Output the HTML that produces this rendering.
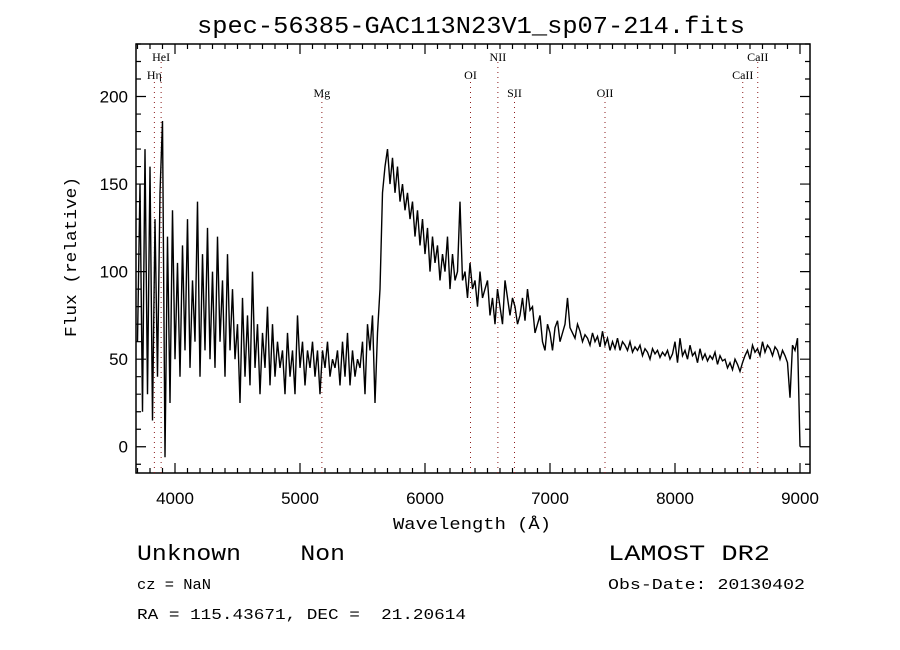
<!DOCTYPE html>
<html><head><meta charset="utf-8"><style>
body{margin:0;background:#fff;}
svg{display:block;}
</style></head><body>
<svg id="chart" width="900" height="650" viewBox="0 0 900 650" xmlns="http://www.w3.org/2000/svg">
<rect width="900" height="650" fill="#fff"/>
<text x="197" y="33" style="font-family:'Liberation Mono',monospace;font-size:24px" textLength="548" lengthAdjust="spacingAndGlyphs">spec-56385-GAC113N23V1_sp07-214.fits</text>
<g id="axes"></g>
<g id="lines"></g>
<g id="series"></g>
<text x="393" y="529" style="font-family:'Liberation Mono',monospace;font-size:17px" textLength="158" lengthAdjust="spacingAndGlyphs">Wavelength (Å)</text>
<text transform="translate(76,337) rotate(-90)" style="font-family:'Liberation Mono',monospace;font-size:17px" textLength="160" lengthAdjust="spacingAndGlyphs">Flux (relative)</text>
<text x="137" y="560" style="font-family:'Liberation Mono',monospace;font-size:22px" textLength="208" lengthAdjust="spacingAndGlyphs" xml:space="preserve">Unknown    Non</text>
<text x="137" y="589" style="font-family:'Liberation Mono',monospace;font-size:15px" textLength="74" lengthAdjust="spacingAndGlyphs">cz = NaN</text>
<text x="137" y="619" style="font-family:'Liberation Mono',monospace;font-size:15px" textLength="329" lengthAdjust="spacingAndGlyphs" xml:space="preserve">RA = 115.43671, DEC =  21.20614</text>
<text x="608" y="560" style="font-family:'Liberation Mono',monospace;font-size:22px" textLength="162" lengthAdjust="spacingAndGlyphs">LAMOST DR2</text>
<text x="608" y="589" style="font-family:'Liberation Mono',monospace;font-size:15px" textLength="197" lengthAdjust="spacingAndGlyphs">Obs-Date: 20130402</text>
</svg>
<script>
const W0 = 3700;
const DW = 20;
const flux = [
60,150,20,170,30,160,15,130,40,145,
186,-6,120,25,135,50,105,40,115,55,
130,45,95,60,140,40,110,55,125,50,
100,45,120,60,95,40,110,55,90,50,
70,25,85,40,75,35,100,45,70,30,
65,45,80,35,70,40,60,45,55,30,
65,40,55,30,75,45,60,35,55,45,
60,40,55,30,55,45,60,40,50,45,
55,35,60,40,65,35,55,40,50,45,
60,30,70,55,75,25,65,90,145,160,
170,150,165,145,160,140,150,135,145,130,
140,120,135,115,130,110,125,100,120,105,
115,95,110,100,120,90,110,95,100,140,
95,100,85,105,90,95,80,100,85,90,
95,75,85,70,90,80,70,95,85,75,
85,80,70,75,85,72,90,78,80,65,
70,75,60,55,70,65,55,68,72,60,
65,70,85,68,65,62,70,66,60,64,
62,58,65,60,63,57,66,58,62,55,
60,56,62,55,60,58,55,60,54,57,
55,58,52,56,54,50,56,53,55,51,
54,52,55,50,53,60,48,62,52,55,
50,58,52,54,48,56,50,53,49,52,
50,54,47,52,49,50,45,48,44,50,
47,43,48,52,55,50,58,54,56,52,
60,54,58,56,52,57,55,50,55,52,
48,28,58,55,62,0
];
const xTicks = [4000,5000,6000,7000,8000,9000];
const yTicks = [0,50,100,150,200];
const lineNames = ["Hη","HeI","Mg","OI","NII","SII","OII","CaII","CaII"];
const lineWaves = [3835,3889,5175,6364,6583,6716,7440,8542,8662];
const lineRows = [1,0,2,1,0,2,2,1,0];

const L=136,R=810,T=44,B=473;
const XMIN=3688,XMAX=9080,YMIN=-15,YMAX=230;
function xs(w){return L+(w-XMIN)/(XMAX-XMIN)*(R-L);}
function ys(f){return B-(f-YMIN)/(YMAX-YMIN)*(B-T);}
const NS="http://www.w3.org/2000/svg";
function mk(tag,attrs,parent){const e=document.createElementNS(NS,tag);for(const k in attrs)e.setAttribute(k,attrs[k]);parent.appendChild(e);return e;}

const axes=document.getElementById('axes');
const frame=mk('rect',{x:L,y:T,width:R-L,height:B-T,fill:'none',stroke:'#000','stroke-width':1.5},axes);


let d='';
for(let w=3700;w<=XMAX;w+=100){const x=xs(w);const len=(w%1000===0)?10:5;d+=`M${x},${B}v${-len}M${x},${T}v${len}`;}
for(let f=-10;f<=YMAX;f+=10){const y=ys(f);const len=(f%50===0)?10:5;d+=`M${L},${y}h${len}M${R},${y}h${-len}`;}
const tk=mk('path',{d:d,stroke:'#000','stroke-width':1.2,fill:'none'},axes);


xTicks.forEach(v=>{const t=mk('text',{x:xs(v),y:B+31,'text-anchor':'middle',style:"font-family:'Liberation Sans',sans-serif;font-size:17px"},axes);t.textContent=v;

});
yTicks.forEach(v=>{const t=mk('text',{x:L-8,y:ys(v)+6,'text-anchor':'end',style:"font-family:'Liberation Sans',sans-serif;font-size:17px"},axes);t.textContent=v;

});

const lg=document.getElementById('lines');
lineWaves.forEach((w,i)=>{const x=xs(w);
const ln=mk('line',{x1:x,x2:x,y1:ys(YMIN),y2:T+5+lineRows[i]*17+12,stroke:'#8b1a1a','stroke-width':1,'stroke-dasharray':'1,4'},lg);


const t=mk('text',{x:x,y:T+17+lineRows[i]*18,'text-anchor':'middle',style:"font-family:'Liberation Serif',serif;font-size:12px"},lg);t.textContent=lineNames[i];

});

const sg=document.getElementById('series');
let p='';
flux.forEach((f,i)=>{p+=(i?'L':'M')+xs(W0+i*DW).toFixed(1)+','+ys(f).toFixed(1);});
const pl=mk('path',{d:p,fill:'none',stroke:'#000','stroke-width':1.4,'stroke-linejoin':'miter'},sg);


</script>
</body></html>
